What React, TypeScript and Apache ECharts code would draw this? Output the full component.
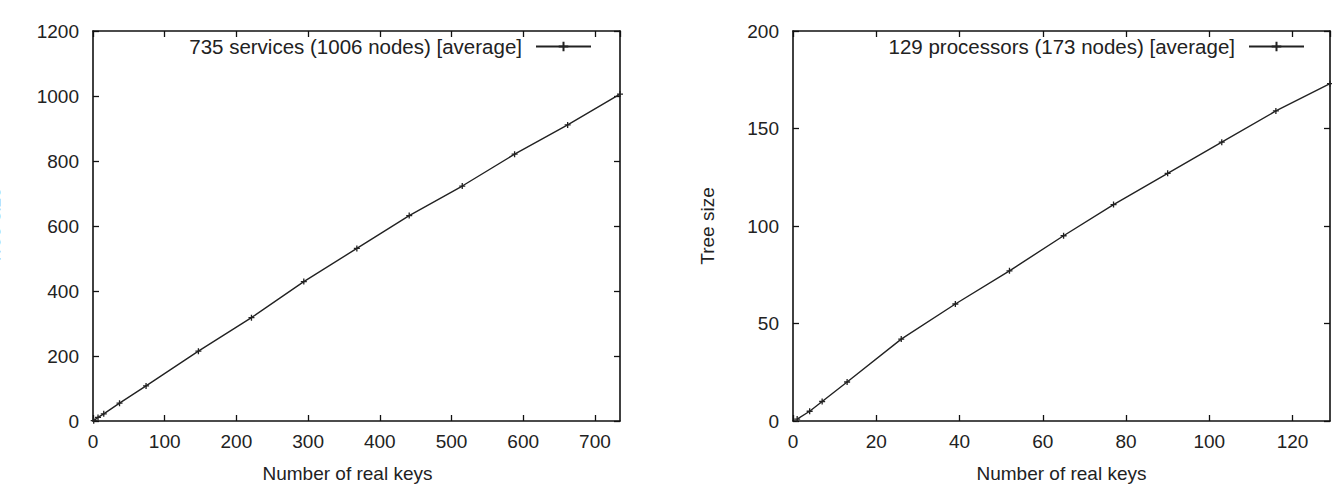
import React, { useEffect, useRef } from "react";
import * as echarts from "echarts";

const leftName = "735 services (1006 nodes) [average]";
const leftKeys = [1, 7, 15, 37, 74, 147, 221, 294, 368, 441, 515, 588, 662, 735];
const leftSize = [1, 11, 22, 55, 108, 215, 318, 429, 531, 632, 723, 821, 911, 1006];

const rightName = "129 processors (173 nodes) [average]";
const rightKeys = [1, 4, 7, 13, 26, 39, 52, 65, 77, 90, 103, 116, 129];
const rightSize = [1, 5, 10, 20, 42, 60, 77, 95, 111, 127, 143, 159, 173];

const xLabel = "Number of real keys";
const yLabel = "Tree size";

const FONT = "'Liberation Sans', Arial, sans-serif";
const TXT = "#222";
const AX = "#111";
const FS = 19;
const LFS = 20.5;

function axisCommon(min: number, max: number, interval: number, showLabel: boolean) {
  return {
    type: "value",
    min,
    max,
    interval,
    splitLine: { show: false },
    axisLine: { show: true, onZero: false, lineStyle: { color: AX, width: 1.6 } },
    axisTick: { show: true, inside: true, length: 6, lineStyle: { color: AX, width: 1.3 } },
    axisLabel: {
      show: showLabel,
      color: TXT,
      fontSize: FS,
      fontFamily: FONT,
      showMaxLabel: max % interval === 0,
      formatter: (v: number) => (v % interval === 0 ? String(v) : ""),
    },
  } as any;
}

export default function App() {
  const ref = useRef<HTMLDivElement>(null);
  useEffect(() => {
    if (!ref.current) return;
    const chart = echarts.init(ref.current, undefined, { renderer: "svg" });
    const sym = "path://M0,5L10,5M5,0L5,10";
    const seriesStyle = {
      type: "line",
      symbol: sym,
      symbolSize: 6,
      showSymbol: true,
      lineStyle: { color: "#222", width: 1.4 },
      itemStyle: { color: "#222", borderColor: "#222", borderWidth: 1.3 },
    };
    const legendCommon = {
      top: 36,
      align: "right",
      padding: 0,
      itemWidth: 55,
      itemHeight: 12,
      textStyle: { color: TXT, fontSize: LFS, fontFamily: FONT, padding: [0, 9, 0, 0] },
    };
    chart.setOption({
      animation: false,
      backgroundColor: "#fff",
      grid: [
        { left: 93, right: 712, top: 31, bottom: 65, outerBoundsMode: "none", containLabel: false },
        { left: 793, right: 2, top: 31, bottom: 65, outerBoundsMode: "none", containLabel: false },
      ],
      legend: [
        { ...legendCommon, data: [leftName], right: 740 },
        { ...legendCommon, data: [rightName], right: 27 },
      ],
      xAxis: [
        {
          ...axisCommon(0, 735, 100, true),
          gridIndex: 0,
          position: "bottom",
          axisLabel: { ...axisCommon(0, 735, 100, true).axisLabel, margin: 11 },
          name: xLabel,
          nameLocation: "middle",
          nameGap: 43,
          nameTextStyle: { color: TXT, fontSize: FS, fontFamily: FONT, padding: [0, 18, 0, 0] },
        },
        { ...axisCommon(0, 735, 100, false), gridIndex: 0, position: "top" },
        {
          ...axisCommon(0, 129, 20, true),
          gridIndex: 1,
          position: "bottom",
          axisLabel: { ...axisCommon(0, 129, 20, true).axisLabel, margin: 11 },
          name: xLabel,
          nameLocation: "middle",
          nameGap: 43,
          nameTextStyle: { color: TXT, fontSize: FS, fontFamily: FONT },
        },
        { ...axisCommon(0, 129, 20, false), gridIndex: 1, position: "top" },
      ],
      yAxis: [
        {
          ...axisCommon(0, 1200, 200, true),
          gridIndex: 0,
          position: "left",
          axisLabel: { ...axisCommon(0, 1200, 200, true).axisLabel, margin: 14 },
          name: yLabel,
          nameLocation: "middle",
          nameGap: 90,
          nameTextStyle: { color: TXT, fontSize: FS, fontFamily: FONT },
        },
        { ...axisCommon(0, 1200, 200, false), gridIndex: 0, position: "right" },
        {
          ...axisCommon(0, 200, 50, true),
          gridIndex: 1,
          position: "left",
          axisLabel: { ...axisCommon(0, 200, 50, true).axisLabel, margin: 14 },
          name: yLabel,
          nameLocation: "middle",
          nameGap: 76,
          nameTextStyle: { color: TXT, fontSize: FS, fontFamily: FONT },
        },
        { ...axisCommon(0, 200, 50, false), gridIndex: 1, position: "right" },
      ],
      series: [
        {
          ...seriesStyle,
          name: leftName,
          xAxisIndex: 0,
          yAxisIndex: 0,
          data: leftKeys.map((k, i) => [k, leftSize[i]]),
        },
        {
          ...seriesStyle,
          name: rightName,
          xAxisIndex: 2,
          yAxisIndex: 2,
          data: rightKeys.map((k, i) => [k, rightSize[i]]),
        },
      ],
    });
    return () => chart.dispose();
  }, []);
  return (
    <div
      ref={ref}
      style={{ position: "fixed", left: 0, top: 0, width: 1332, height: 486, background: "#fff" }}
    />
  );
}
